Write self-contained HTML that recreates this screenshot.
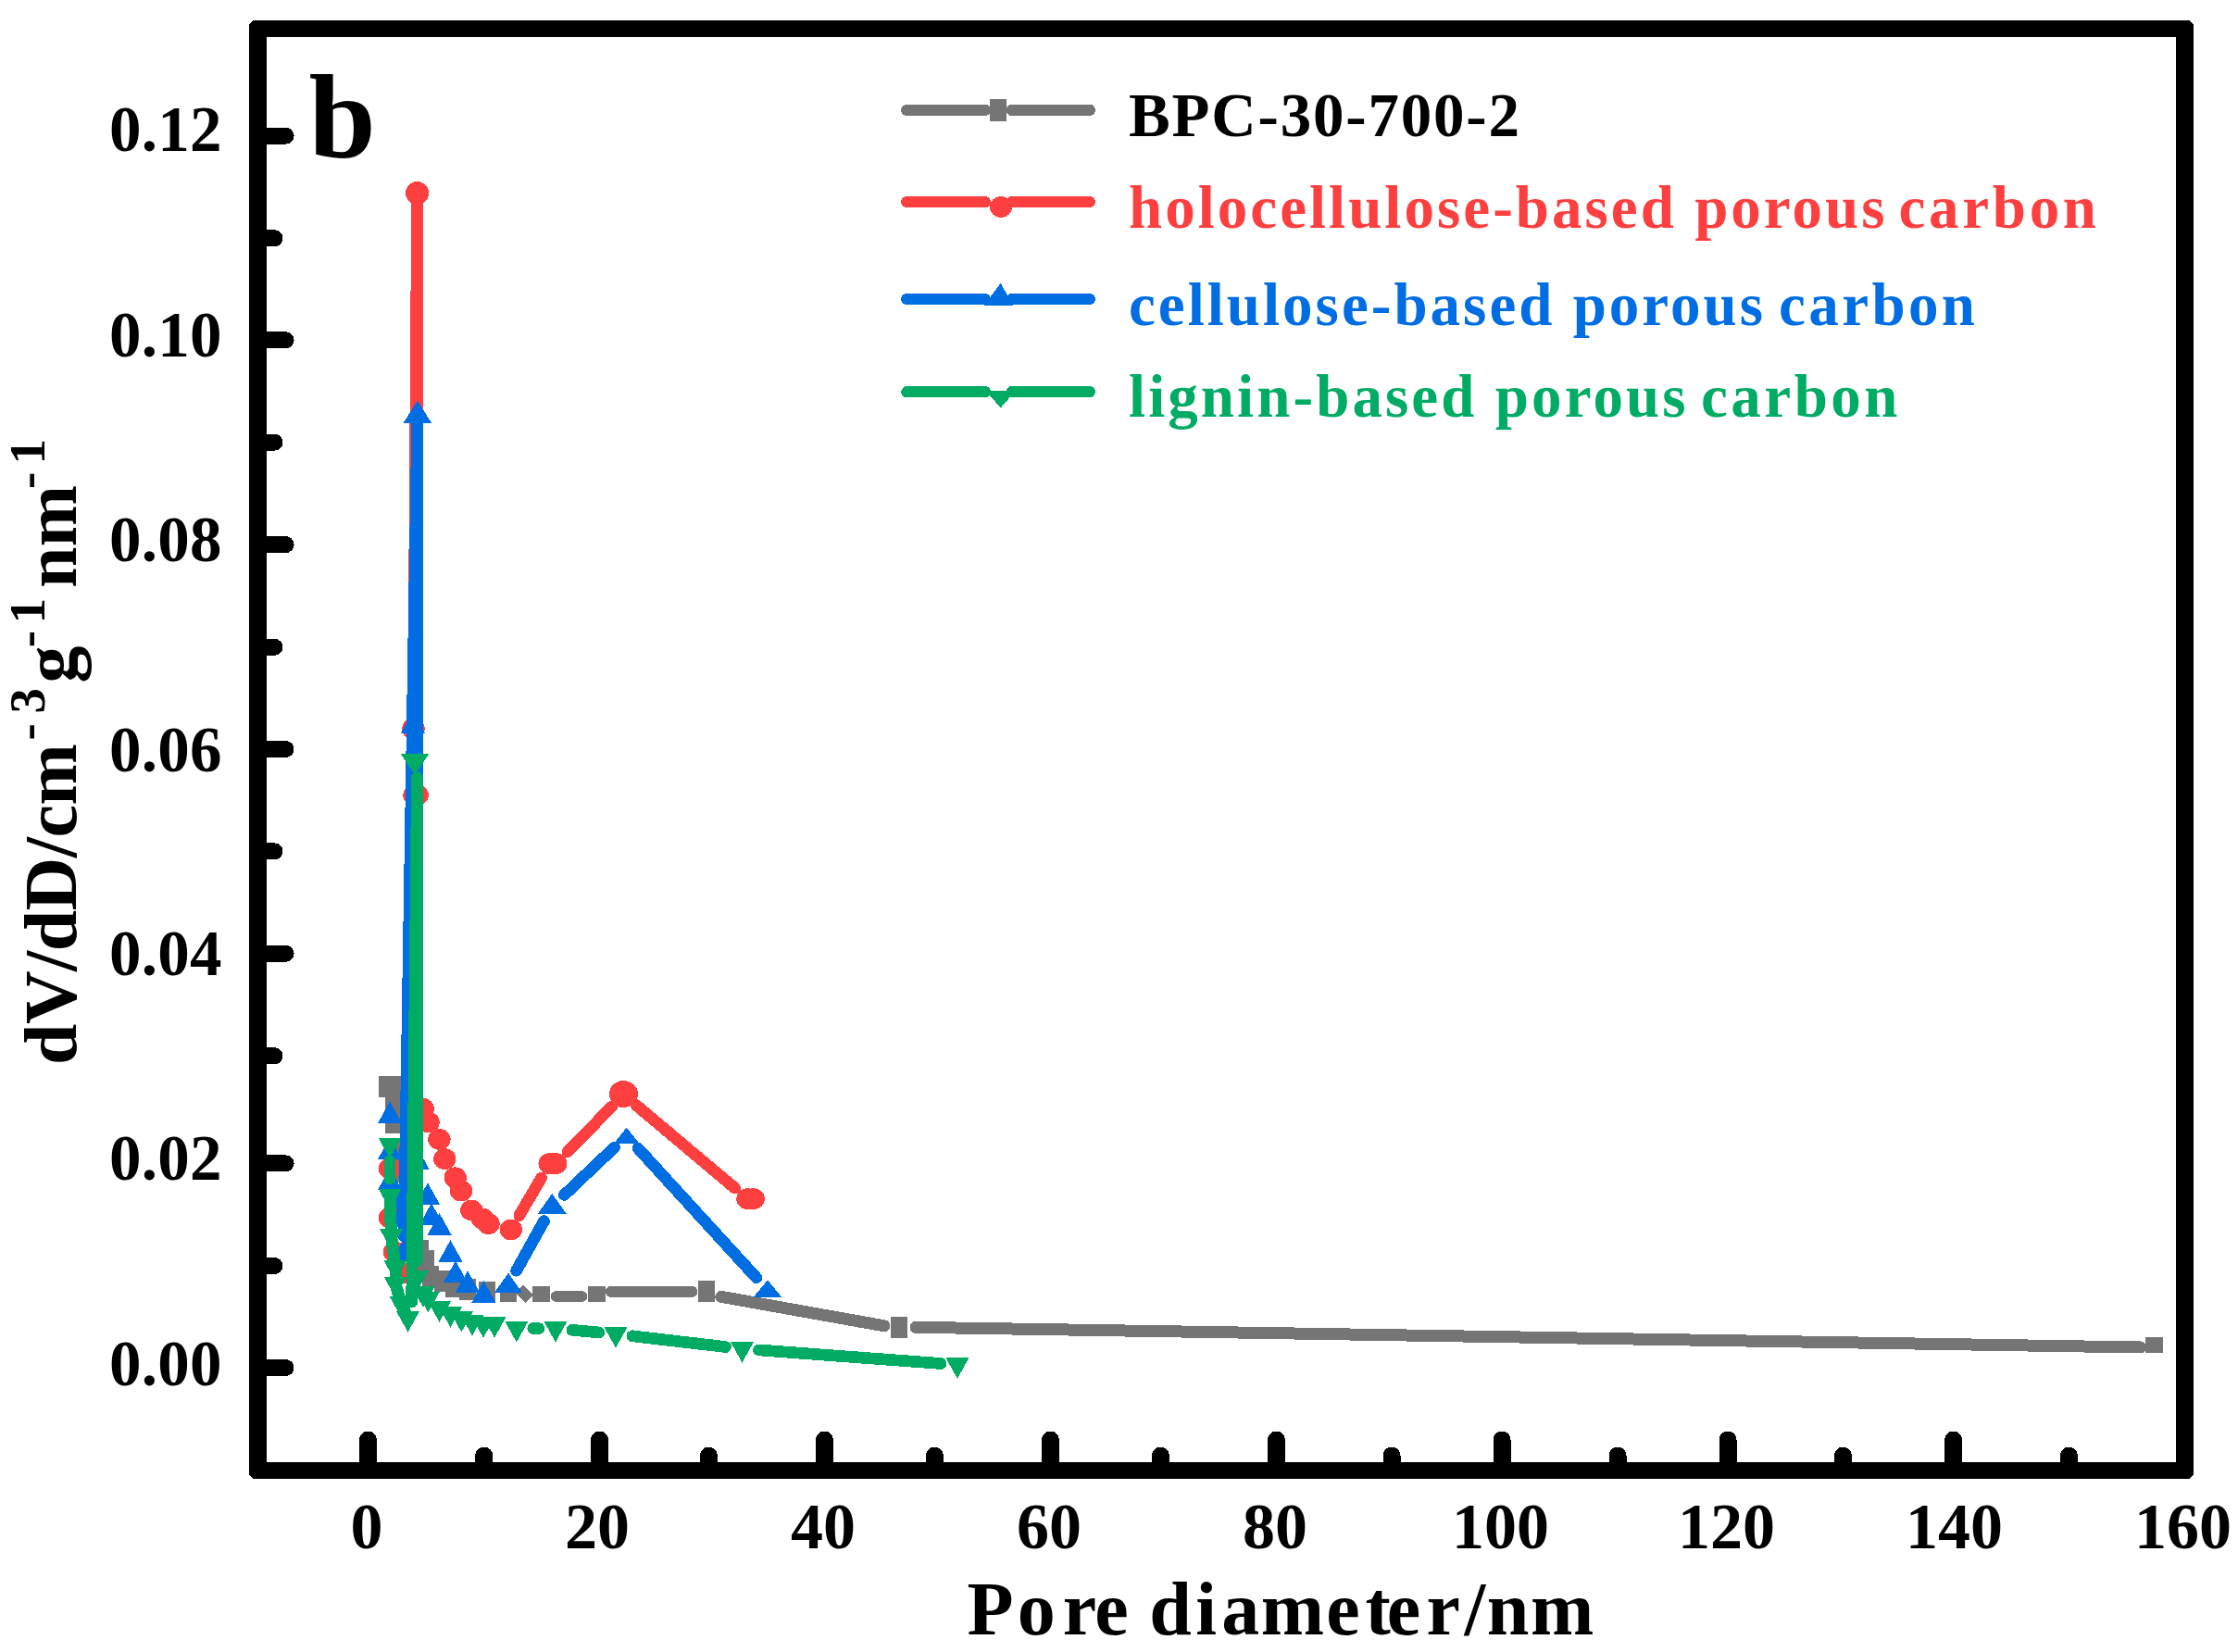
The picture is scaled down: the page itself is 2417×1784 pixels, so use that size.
<!DOCTYPE html>
<html><head><meta charset="utf-8"><title>Pore size distribution</title>
<style>html,body{margin:0;padding:0;background:#fff}svg{display:block}</style></head>
<body><svg width="2417" height="1784" viewBox="0 0 2417 1784" shape-rendering="crispEdges">
<rect width="2417" height="1784" fill="#fff"/>
<path d="M276,22 H2362 A7,7 0 0 1 2369,29 V1590 A7,7 0 0 1 2362,1597 H276 A7,7 0 0 1 269,1590 V29 A7,7 0 0 1 276,22 Z M288,40 V1579 H2350 V40 Z" fill="#000" fill-rule="evenodd"/>
<g stroke="#000" stroke-width="19" stroke-linecap="round">
<line x1="397.5" y1="1585" x2="397.5" y2="1555"/>
<line x1="522.7" y1="1585" x2="522.7" y2="1572"/>
<line x1="647.5" y1="1585" x2="647.5" y2="1555"/>
<line x1="765.4" y1="1585" x2="765.4" y2="1572"/>
<line x1="890.5" y1="1585" x2="890.5" y2="1555"/>
<line x1="1009.4" y1="1585" x2="1009.4" y2="1572"/>
<line x1="1134.5" y1="1585" x2="1134.5" y2="1555"/>
<line x1="1253.4" y1="1585" x2="1253.4" y2="1572"/>
<line x1="1378.5" y1="1585" x2="1378.5" y2="1555"/>
<line x1="1503" y1="1585" x2="1503" y2="1572"/>
<line x1="1622" y1="1585" x2="1622" y2="1555"/>
<line x1="1747" y1="1585" x2="1747" y2="1572"/>
<line x1="1866" y1="1585" x2="1866" y2="1555"/>
<line x1="1990.4" y1="1585" x2="1990.4" y2="1572"/>
<line x1="2109.6" y1="1585" x2="2109.6" y2="1555"/>
<line x1="2234.4" y1="1585" x2="2234.4" y2="1572"/>
</g><g stroke="#000" stroke-width="18" stroke-linecap="round">
<line x1="280" y1="146.6" x2="308.6" y2="146.6"/>
<line x1="280" y1="257.3" x2="296.5" y2="257.3"/>
<line x1="280" y1="367.3" x2="308.6" y2="367.3"/>
<line x1="280" y1="477.7" x2="296.5" y2="477.7"/>
<line x1="280" y1="588.1" x2="308.6" y2="588.1"/>
<line x1="280" y1="698.9" x2="296.5" y2="698.9"/>
<line x1="280" y1="809" x2="308.6" y2="809"/>
<line x1="280" y1="919.4" x2="296.5" y2="919.4"/>
<line x1="280" y1="1029.7" x2="308.6" y2="1029.7"/>
<line x1="280" y1="1140.3" x2="296.5" y2="1140.3"/>
<line x1="280" y1="1256.4" x2="308.6" y2="1256.4"/>
<line x1="280" y1="1367" x2="296.5" y2="1367"/>
<line x1="280" y1="1477" x2="308.6" y2="1477"/>
</g>
<g font-family='"Liberation Serif",serif' font-weight="bold" font-size="70" fill="#000">
<text x="396" y="1671.5" text-anchor="middle">0</text>
<text x="645" y="1671.5" text-anchor="middle">20</text>
<text x="889" y="1671.5" text-anchor="middle">40</text>
<text x="1133" y="1671.5" text-anchor="middle">60</text>
<text x="1377" y="1671.5" text-anchor="middle">80</text>
<text x="1620.5" y="1671.5" text-anchor="middle">100</text>
<text x="1864.5" y="1671.5" text-anchor="middle">120</text>
<text x="2110.5" y="1671.5" text-anchor="middle">140</text>
<text x="2357.5" y="1671.5" text-anchor="middle">160</text>
</g>
<g font-family='"Liberation Serif",serif' font-weight="bold" font-size="69" fill="#000">
<text x="118" y="163.2" textLength="121.5" lengthAdjust="spacing">0.12</text>
<text x="118" y="384.5" textLength="121.5" lengthAdjust="spacing">0.10</text>
<text x="118" y="606.4" textLength="121.5" lengthAdjust="spacing">0.08</text>
<text x="118" y="833.3" textLength="121.5" lengthAdjust="spacing">0.06</text>
<text x="118" y="1053.0" textLength="121.5" lengthAdjust="spacing">0.04</text>
<text x="118" y="1273.7" textLength="121.5" lengthAdjust="spacing">0.02</text>
<text x="118" y="1495.8" textLength="121.5" lengthAdjust="spacing">0.00</text>
</g>
<text y="1764.5" x="1044.6 1098.8 1147.8 1182.3 1218.7 1241.3 1291.2 1319.2 1361.8 1432.2 1474.5 1497.8 1540.6 1581.6 1605.8 1653.0" font-family='"Liberation Serif",serif' font-weight="bold" font-size="82">Pore diameter/nm</text>
<text transform="translate(81.7,1150) rotate(-90)" font-family='"Liberation Serif",serif' font-weight="bold"><tspan x="0.0" y="0" font-size="80" textLength="347" lengthAdjust="spacing">dV/dD/cm</tspan><tspan x="350.5" y="-34" font-size="55">-</tspan><tspan x="379.5" y="-34" font-size="55">3</tspan><tspan x="412.5" y="0" font-size="80">g</tspan><tspan x="450.7" y="-34" font-size="55">-</tspan><tspan x="476.5" y="-34" font-size="55">1</tspan><tspan x="515.0" y="0" font-size="80">nm</tspan><tspan x="622.0" y="-34" font-size="55">-</tspan><tspan x="648.5" y="-34" font-size="55">1</tspan></text>
<text x="333.6" y="170" font-family='"Liberation Serif",serif' font-weight="bold" font-size="130">b</text>
<path d="M432.2,1258.9 L433.8,1272.1 " stroke="#757575" stroke-width="12.7" stroke-linecap="round" fill="none"/>
<path d="M561,1392 L572,1403" stroke="#757575" stroke-width="12" stroke-linecap="butt" fill="none"/>
<path d="M600.5,1400 L628.5,1400" stroke="#757575" stroke-width="11.5" stroke-linecap="round" fill="none"/>
<path d="M660,1394.8 L747.5,1394.8" stroke="#757575" stroke-width="12" stroke-linecap="round" fill="none"/>
<path d="M778.8,1400.3 L954.8,1431.8" stroke="#757575" stroke-width="13" stroke-linecap="round" fill="none"/>
<path d="M989,1433.3 L2311.5,1455" stroke="#757575" stroke-width="13" stroke-linecap="round" fill="none"/>
<g fill="#757575"><rect x="416.5" y="1161.9" width="18" height="23"/><rect x="416.0" y="1184.5" width="18" height="23"/><rect x="416.0" y="1200.5" width="18" height="23"/><rect x="421.0" y="1229.5" width="18" height="23"/><rect x="427.0" y="1278.5" width="18" height="23"/><rect x="436.0" y="1318.5" width="18" height="23"/><rect x="444.6" y="1339.0" width="18" height="23"/><rect x="451.0" y="1350.0" width="18" height="23"/><rect x="456.0" y="1367.0" width="18" height="23"/><rect x="469.0" y="1372.0" width="18" height="23"/><rect x="481.0" y="1377.5" width="18" height="23"/><rect x="496.0" y="1380.5" width="18" height="23"/><rect x="517.0" y="1383.5" width="18" height="23"/><rect x="409.0" y="1161.9" width="18" height="23"/><rect x="540.0" y="1388.9" width="17.5" height="16.8"/><rect x="575.0" y="1388.9" width="18.5" height="16.8"/><rect x="635.1" y="1388.9" width="18.5" height="16.8"/><rect x="754.0" y="1383.0" width="18" height="23"/><rect x="962.0" y="1422.0" width="18" height="23"/><rect x="2317.0" y="1444.0" width="19" height="17"/></g>
<path d="M421.0,1280.0 L421.0,1297.0 M441.2,1357.0 L447.3,876.7 M447.2,840.7 L446.8,805.0 M446.6,769.0 L450.5,226.5 M450.6,226.5 L450.6,840.7 M450.6,876.7 L450.0,1167.0 " stroke="#fd3f3f" stroke-width="12.7" stroke-linecap="round" fill="none"/>
<path d="M560.9,1312.4 L584.6,1272.1 M612.9,1243.7 L660.8,1194.9 M687.2,1193.6 L793.7,1283.1 " stroke="#fd3f3f" stroke-width="12.7" stroke-linecap="round" fill="none"/>
<path d="M450.6,214 L450.6,234" stroke="#fd3f3f" stroke-width="13" stroke-linecap="butt" fill="none"/>
<g fill="#fd3f3f"><ellipse cx="421.0" cy="1262.0" rx="12.2" ry="11.4"/><ellipse cx="421.0" cy="1315.0" rx="12.2" ry="11.4"/><ellipse cx="426.0" cy="1352.0" rx="12.2" ry="11.4"/><ellipse cx="441.0" cy="1375.0" rx="12.2" ry="11.4"/><ellipse cx="447.5" cy="858.7" rx="12.2" ry="11.4"/><ellipse cx="446.5" cy="787.0" rx="12.2" ry="11.4"/><circle cx="450.6" cy="208.5" r="12.5"/><ellipse cx="450.6" cy="858.7" rx="12.2" ry="11.4"/><ellipse cx="456.7" cy="1197.3" rx="12.2" ry="11.4"/><ellipse cx="462.6" cy="1212.0" rx="12.2" ry="11.4"/><ellipse cx="474.4" cy="1230.3" rx="12.2" ry="11.4"/><ellipse cx="480.3" cy="1251.7" rx="12.2" ry="11.4"/><ellipse cx="491.7" cy="1271.8" rx="12.2" ry="11.4"/><ellipse cx="498.0" cy="1286.0" rx="12.2" ry="11.4"/><ellipse cx="509.3" cy="1307.0" rx="12.2" ry="11.4"/><ellipse cx="521.0" cy="1316.0" rx="12.2" ry="11.4"/><ellipse cx="527.5" cy="1321.7" rx="12.2" ry="11.4"/><ellipse cx="551.8" cy="1327.9" rx="12.2" ry="11.4"/><ellipse cx="593.7" cy="1256.6" rx="12.2" ry="11.4"/><ellipse cx="600.3" cy="1256.6" rx="12.2" ry="11.4"/><ellipse cx="673.4" cy="1182.0" rx="12.2" ry="11.4"/><ellipse cx="807.5" cy="1294.7" rx="12.2" ry="11.4"/><ellipse cx="813.7" cy="1294.7" rx="12.2" ry="11.4"/></g>
<ellipse cx="673.4" cy="1181.5" rx="15.5" ry="14.5" fill="#fd3f3f"/>
<path d="M425.8,1294.5 L427.2,1299.8 M436.3,1335.2 L450.5,467.0 M450.8,467.0 L450.5,1236.7 M557.7,1372.2 L587.5,1318.6 M609.3,1290.5 L663.6,1239.0 M688.9,1239.9 L816.8,1379.8 " stroke="#006ee2" stroke-width="12.7" stroke-linecap="round" fill="none"/>
<path d="M450.7,455 L450.7,480" stroke="#006ee2" stroke-width="13" stroke-linecap="butt" fill="none"/>
<g fill="#006ee2"><path d="M408.0,1213.0 L434.0,1213.0 L421.0,1189.5Z"/><path d="M408.0,1252.0 L434.0,1252.0 L421.0,1228.5Z"/><path d="M408.0,1285.0 L434.0,1285.0 L421.0,1261.5Z"/><path d="M419.0,1325.0 L445.0,1325.0 L432.0,1301.5Z"/><path d="M423.0,1361.0 L449.0,1361.0 L436.0,1337.5Z"/><path d="M433.0,791.5 L459.0,791.5 L446.0,768.0Z"/><path d="M435.6,456.8 L466.1,456.8 L450.8,432.6Z"/><path d="M437.5,1262.5 L463.5,1262.5 L450.5,1239.0Z"/><path d="M449.0,1300.7 L475.0,1300.7 L462.0,1277.2Z"/><path d="M453.0,1322.7 L479.0,1322.7 L466.0,1299.2Z"/><path d="M461.6,1333.6 L487.6,1333.6 L474.6,1310.1Z"/><path d="M473.5,1362.6 L499.5,1362.6 L486.5,1339.1Z"/><path d="M479.0,1385.0 L505.0,1385.0 L492.0,1361.5Z"/><path d="M492.0,1395.8 L518.0,1395.8 L505.0,1372.3Z"/><path d="M509.4,1406.6 L535.4,1406.6 L522.4,1383.1Z"/><path d="M534.0,1395.8 L564.0,1395.8 L549.0,1374.8Z"/><path d="M580.7,1310.7 L611.7,1310.7 L596.2,1289.0Z"/><path d="M663.2,1234.5 L690.2,1234.5 L676.7,1217.5Z"/><path d="M813.5,1400.9 L844.5,1400.9 L829.0,1382.4Z"/></g>
<path d="M421.0,1254.0 L421.0,1273.1 M421.6,1309.1 L421.9,1316.7 M444.7,1406.0 L450.4,839.7 M450.6,839.7 L450.5,1361.5 M575.8,1434.6 L582.0,1434.6 M617.9,1436.3 L647.1,1439.0 M682.9,1442.8 L783.6,1454.5 M819.5,1457.9 L1016.0,1472.5 " stroke="#00ac64" stroke-width="12.7" stroke-linecap="round" fill="none"/>
<path d="M421,1291 L422.5,1334.7 L427,1368.8 L427,1386 L433,1407.3 L440.5,1423.7" stroke="#00ac64" stroke-width="13" stroke-linecap="round" fill="none"/>
<g fill="#00ac64"><path d="M408.5,1228.5 L433.5,1228.5 L421.0,1251.0Z"/><path d="M408.5,1283.6 L433.5,1283.6 L421.0,1306.1Z"/><path d="M410.0,1327.2 L435.0,1327.2 L422.5,1349.7Z"/><path d="M414.5,1361.3 L439.5,1361.3 L427.0,1383.8Z"/><path d="M414.5,1378.5 L439.5,1378.5 L427.0,1401.0Z"/><path d="M420.5,1399.8 L445.5,1399.8 L433.0,1422.3Z"/><path d="M428.0,1416.2 L453.0,1416.2 L440.5,1438.7Z"/><path d="M432.8,814.2 L463.2,814.2 L448.0,836.7Z"/><path d="M438.0,1372.0 L463.0,1372.0 L450.5,1394.5Z"/><path d="M444.5,1389.4 L469.5,1389.4 L457.0,1411.9Z"/><path d="M450.0,1394.8 L475.0,1394.8 L462.5,1417.3Z"/><path d="M462.0,1405.3 L487.0,1405.3 L474.5,1427.8Z"/><path d="M474.0,1411.2 L499.0,1411.2 L486.5,1433.7Z"/><path d="M485.8,1416.2 L510.8,1416.2 L498.3,1438.7Z"/><path d="M497.5,1420.0 L522.5,1420.0 L510.0,1442.5Z"/><path d="M509.5,1422.3 L534.5,1422.3 L522.0,1444.8Z"/><path d="M521.5,1422.2 L546.5,1422.2 L534.0,1444.7Z"/><path d="M545.3,1427.1 L570.3,1427.1 L557.8,1449.6Z"/><path d="M587.5,1427.1 L612.5,1427.1 L600.0,1449.6Z"/><path d="M652.5,1433.2 L677.5,1433.2 L665.0,1455.7Z"/><path d="M789.0,1449.1 L814.0,1449.1 L801.5,1471.6Z"/><path d="M1021.5,1466.3 L1046.5,1466.3 L1034.0,1488.8Z"/></g>
<path d="M979.3,118.9 H1064 M1092.5,118.9 H1176.8" stroke="#757575" stroke-width="12.2" stroke-linecap="round" fill="none"/>
<path d="M979.3,218.1 H1064 M1092.5,218.1 H1176.8" stroke="#fd3f3f" stroke-width="12.2" stroke-linecap="round" fill="none"/>
<path d="M979.3,323.1 H1064 M1092.5,323.1 H1176.8" stroke="#006ee2" stroke-width="12.2" stroke-linecap="round" fill="none"/>
<path d="M979.3,423.2 H1064 M1092.5,423.2 H1176.8" stroke="#00ac64" stroke-width="12.2" stroke-linecap="round" fill="none"/>
<rect x="1069" y="107.2" width="18" height="23.7" fill="#757575"/>
<ellipse cx="1081" cy="223.5" rx="12" ry="11.4" fill="#fd3f3f"/>
<path d="M1062.8,329.6 L1094.3,329.6 L1080.7,305.9Z" fill="#006ee2"/>
<path d="M1065,422.3 L1096.5,422.3 L1080.7,440.6Z" fill="#00ac64"/>
<g font-family='"Liberation Serif",serif' font-weight="bold">
<text x="1219" y="146.9" fill="#000" font-size="67" textLength="422" lengthAdjust="spacing">BPC-30-700-2</text>
<text x="1219" y="245.9" fill="#fd3f3f" font-size="65" textLength="816.5" lengthAdjust="spacing">holocellulose-based porous</text>
<text x="2050.5" y="245.9" fill="#fd3f3f" font-size="65" textLength="213.5" lengthAdjust="spacing">carbon</text>
<text x="1219" y="351.3" fill="#006ee2" font-size="65" textLength="685" lengthAdjust="spacing">cellulose-based porous</text>
<text x="1921" y="351.3" fill="#006ee2" font-size="65" textLength="212" lengthAdjust="spacing">carbon</text>
<text x="1219" y="449.6" fill="#00ac64" font-size="65" textLength="601.5" lengthAdjust="spacing">lignin-based porous</text>
<text x="1837" y="449.6" fill="#00ac64" font-size="65" textLength="212.5" lengthAdjust="spacing">carbon</text>
</g>
</svg></body></html>
